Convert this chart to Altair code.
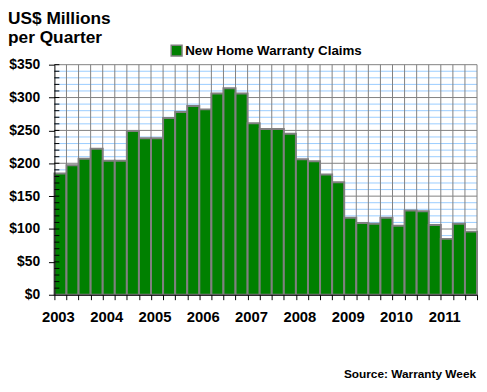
import json
import altair as alt
import pandas as pd

years = ['2003', '2004', '2005', '2006', '2007', '2008', '2009', '2010', '2011']
claims = [184.5, 197, 207, 222, 204, 204, 249, 238, 238, 269, 278, 287, 282, 306, 314, 306,
          261, 252, 252, 245, 206, 203, 183, 171, 117, 109, 108, 117, 105, 128, 127, 106,
          85, 108, 96]
series_name = 'New Home Warranty Claims'
y_major = [0, 50, 100, 150, 200, 250, 300, 350]
y_minor = [v for v in range(10, 350, 10) if v % 50]
y_all = list(range(10, 360, 10))
title_lines = ['US$ Millions', 'per Quarter']
source_text = ['Source: Warranty Week']

n = len(claims)
FONT = 'Liberation Sans'
GRAY = '#808080'
BLUE = '#99ccff'

bars_df = pd.DataFrame({'q0': list(range(n)), 'q1': list(range(1, n + 1)),
                        'claims': claims, 'series': [series_name] * n})
minor_df = pd.DataFrame({'v': y_minor})
major_df = pd.DataFrame({'v': y_major[1:]})
vert_df = pd.DataFrame({'q': list(range(1, n + 1))})
tick_df = pd.DataFrame({'v': y_all})

xs = alt.Scale(domain=[0, n], nice=False, zero=False)
ys = alt.Scale(domain=[0, 350], nice=False)

label_expr = f"datum.value % 4 == 0 ? {json.dumps(years)}[datum.value / 4] : ''"

x_axis = alt.Axis(
    values=list(range(n + 1)), labelExpr=label_expr, title=None, grid=False,
    tickSize=5, tickColor='black', domainColor='black', labelColor='black',
    labelFont=FONT, labelFontSize=15, labelFontWeight='bold', labelPadding=10,
    labelOffset=3.5, labelFlush=False, labelOverlap=False, labelBound=False, zindex=1)
y_axis = alt.Axis(
    values=y_major, labelExpr="'$' + datum.value", title=None, grid=False,
    tickSize=6, tickColor='black', domainColor='black', labelColor='black',
    labelFont=FONT, labelFontSize=14, labelFontWeight='bold', labelPadding=9, zindex=1)

minor = alt.Chart(minor_df).mark_rule(color=BLUE, strokeWidth=1).encode(
    y=alt.Y('v:Q', scale=ys, axis=y_axis),
    x=alt.value(0), x2=alt.value(428))
major = alt.Chart(major_df).mark_rule(color=GRAY, strokeWidth=1).encode(
    y=alt.Y('v:Q', scale=ys, axis=y_axis),
    x=alt.value(0), x2=alt.value(428))
vert = alt.Chart(vert_df).mark_rule(color=GRAY, strokeWidth=1).encode(
    x=alt.X('q:Q', scale=xs, axis=x_axis),
    y=alt.value(0), y2=alt.value(233))

bars = alt.Chart(bars_df).mark_bar(stroke=GRAY, strokeWidth=2, opacity=1).encode(
    x=alt.X('q0:Q', scale=xs, axis=x_axis),
    x2='q1:Q',
    y=alt.Y('claims:Q', scale=ys, axis=y_axis),
    y2=alt.datum(0),
    color=alt.Color('series:N', scale=alt.Scale(range=['#008000']), legend=alt.Legend(
        orient='none', legendX=117, legendY=-21, title=None, symbolType='square',
        symbolSize=121, symbolStrokeColor=GRAY, symbolStrokeWidth=1.5, symbolOpacity=1,
        labelFont=FONT, labelFontSize=13.5, labelFontWeight='bold', labelColor='black',
        labelOffset=2, labelLimit=400, padding=0)))

ticks = alt.Chart(tick_df).mark_rule(color='black', strokeWidth=1).encode(
    y=alt.Y('v:Q', scale=ys, axis=y_axis), x=alt.value(0), x2=alt.value(5))

t1 = alt.Chart(pd.DataFrame({'t': [title_lines[0]]})).mark_text(
    align='left', baseline='alphabetic', font=FONT, fontSize=17.5, fontWeight='bold',
    color='black').encode(text='t:N', x=alt.value(-47), y=alt.value(-41))
t2 = alt.Chart(pd.DataFrame({'t': [title_lines[1]]})).mark_text(
    align='left', baseline='alphabetic', font=FONT, fontSize=17.5, fontWeight='bold',
    color='black').encode(text='t:N', x=alt.value(-47), y=alt.value(-22))
src = alt.Chart(pd.DataFrame({'t': source_text})).mark_text(
    align='right', baseline='alphabetic', font=FONT, fontSize=12, fontWeight='bold',
    color='black').encode(text='t:N', x=alt.value(427), y=alt.value(317))

chart = alt.layer(minor, major, vert, bars, ticks, t1, t2, src).properties(
    width=428, height=233, autosize='none',
    padding={'left': 47, 'top': 55, 'right': 2, 'bottom': 88},
    background='white'
).configure_view(stroke=None)

chart.save('out.html', embed_options={'renderer': 'svg', 'actions': False})
